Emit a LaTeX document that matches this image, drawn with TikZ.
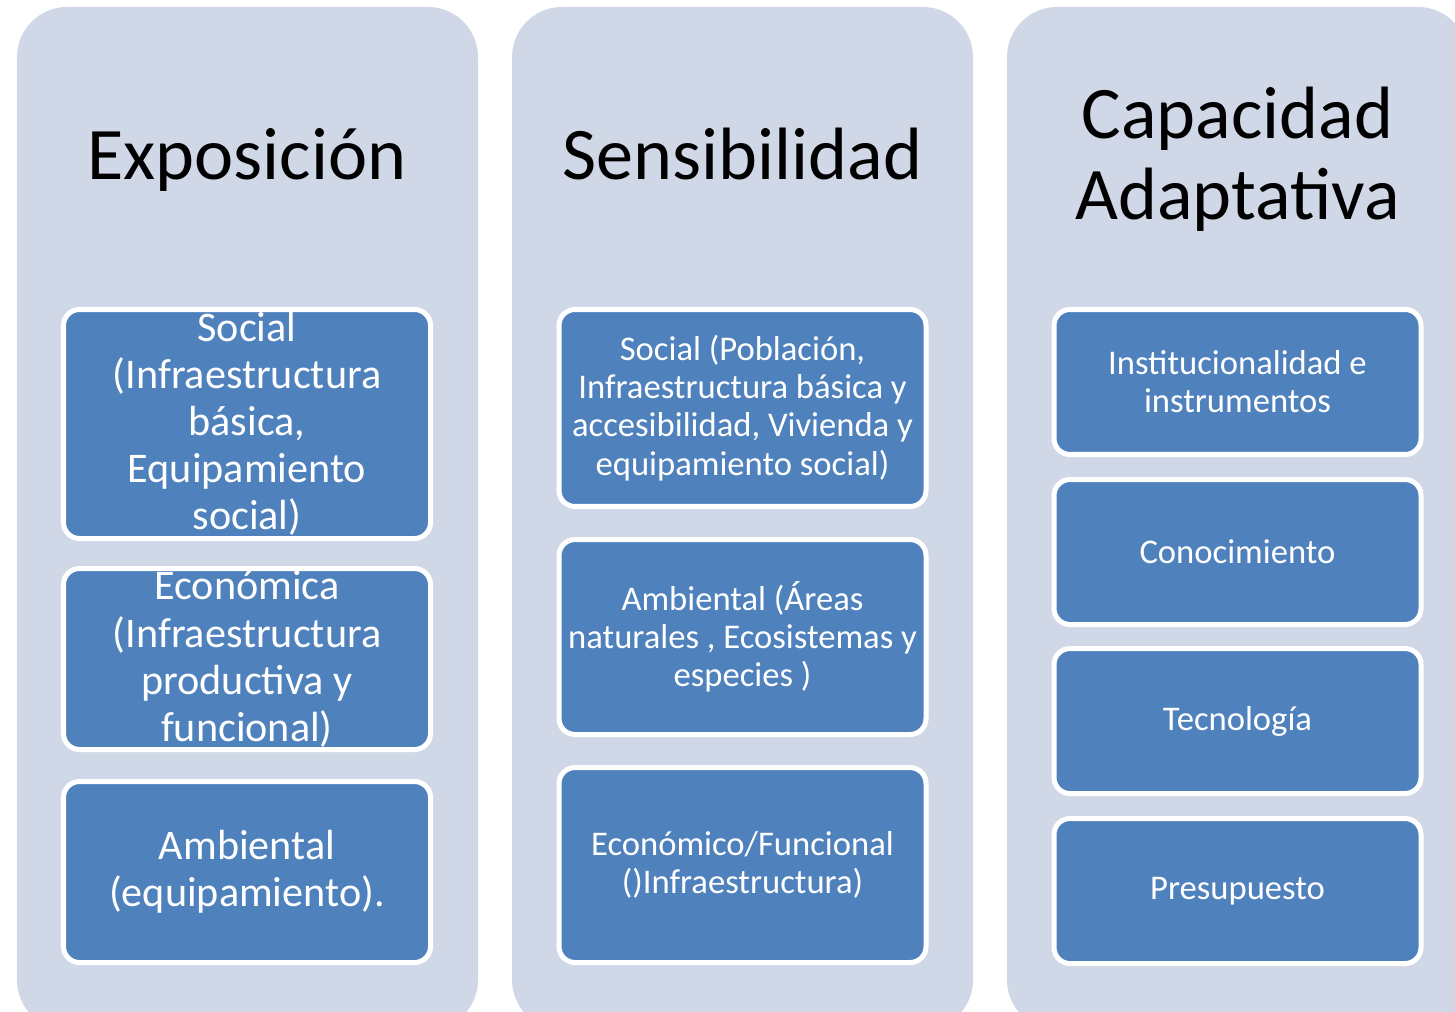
\documentclass[tikz,border=0pt]{standalone}
\usepackage{fontspec}
\setmainfont{Carlito}
\usetikzlibrary{positioning}

\definecolor{panelgray}{RGB}{208,216,232}
\definecolor{boxblue}{RGB}{79,129,189}

\tikzset{
panel/.style={rectangle,rounded corners=1cm,fill=panelgray,minimum width=9.22cm,minimum height=20.46cm,inner sep=0pt},
heading/.style={font=\fontsize{42.2}{46.5}\selectfont,align=center,anchor=base},
subbox/.style={rectangle,rounded corners=0.32cm,fill=boxblue,draw=white,line width=2.85pt,minimum width=7.34cm,inner sep=0pt},
boxtxt/.style={text=white,align=center,inner sep=0pt,font=\fontsize{19.7}{21.7}\selectfont},
bigtxt/.style={boxtxt,font=\fontsize{24}{26.8}\selectfont}
}

\begin{document}
\begin{tikzpicture}
\clip (0,0) rectangle (29.1,-20.24);
% columns
\node[panel] (colexp) at (4.95,-10.37) {};
\node[panel] (colsen) at (14.85,-10.37) {};
\node[panel] (colcap) at (24.75,-10.37) {};
\node[heading] (hexp) at (4.94,-3.6) {Exposición};
\node[heading] (hsen) at (14.85,-3.6) {Sensibilidad};
\node[heading] (hcap) at (24.75,-4.4) {Capacidad\\Adaptativa};
% Exposicion
\node[subbox,minimum height=4.58cm] (exsoc) at (4.94,-8.48) {};
\node[subbox,minimum height=3.62cm,below=0.5cm of exsoc] (execo) {};
\node[subbox,minimum height=3.62cm,below=0.54cm of execo] (examb) {};
\node[bigtxt] (exsoct) at (exsoc) {Social\\(Infraestructura\\básica,\\Equipamiento\\social)};
\node[bigtxt] (execot) at (execo) {Económica\\(Infraestructura\\productiva y\\funcional)};
\node[bigtxt] (exambt) at (examb) {Ambiental\\(equipamiento).};
% Sensibilidad
\node[subbox,minimum height=3.94cm] (sesoc) at (14.85,-8.16) {};
\node[subbox,minimum height=3.9cm,below=0.56cm of sesoc] (seamb) {};
\node[subbox,minimum height=3.9cm,below=0.56cm of seamb] (seeco) {};
\node[boxtxt] (sesoct) at (sesoc) {Social (Población,\\Infraestructura básica y\\accesibilidad, Vivienda y\\equipamiento social)};
\node[boxtxt] (seambt) at (seamb) {Ambiental (Áreas\\naturales , Ecosistemas y\\especies )};
\node[boxtxt] (seecot) at (seeco) {Económico/Funcional\\()Infraestructura)};
% Capacidad adaptativa
\node[subbox,minimum height=2.9cm] (cains) at (24.75,-7.64) {};
\node[subbox,minimum height=2.9cm,below=0.4cm of cains] (cacon) {};
\node[subbox,minimum height=2.9cm,below=0.38cm of cacon] (catec) {};
\node[subbox,minimum height=2.9cm,below=0.4cm of catec] (capre) {};
\node[boxtxt] (cainst) at (cains) {Institucionalidad e\\instrumentos};
\node[boxtxt] (cacont) at (cacon) {Conocimiento};
\node[boxtxt] (catect) at (catec) {Tecnología};
\node[boxtxt] (capret) at (capre) {Presupuesto};
\end{tikzpicture}
\end{document}
